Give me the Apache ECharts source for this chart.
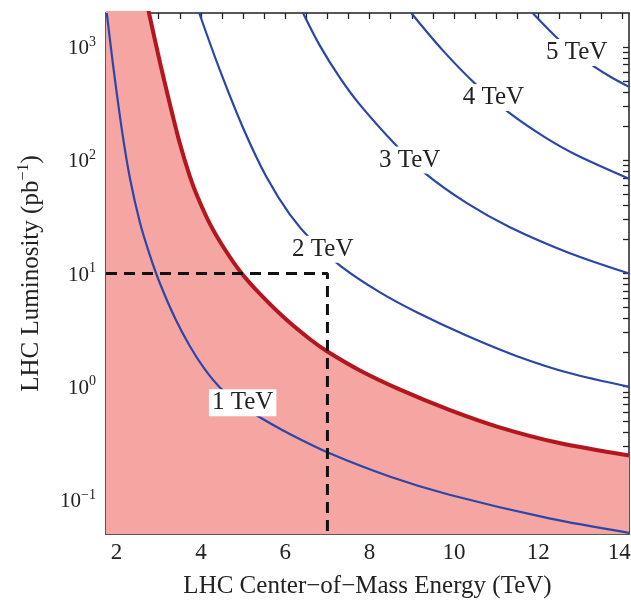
<!DOCTYPE html>
<html><head><meta charset="utf-8">
<script src="https://cdn.jsdelivr.net/npm/echarts@6/dist/echarts.min.js"></script>
<style>html,body{margin:0;padding:0;background:#fff}#c{width:631px;height:604px}</style>
</head><body><div id="c"></div>
<script>
// ---- axis ranges and tick labels ----
const xRange = [1.75, 14.15];
const yRange = [0.05, 2000];
const xTickLabels = [2, 4, 6, 8, 10, 12, 14];
const yTickLabels = [0.1, 1, 10, 100, 1000];

// ---- thick red curve (shaded region below it) ----
const redE = [1.75, 2.55, 2.77, 3.03, 3.27, 3.50, 3.74, 3.92, 4.21, 4.57, 4.96, 5.40, 5.99, 6.58, 6.98, 7.76, 8.71, 9.89, 11.08, 12.50, 14.15];
const redL = [30000, 5000, 2000, 731, 308, 141, 71.9, 47.6, 27.6, 16.3, 10.1, 6.60, 4.02, 2.64, 2.07, 1.40, 0.948, 0.625, 0.438, 0.318, 0.247];

// ---- blue contours ----
const tev1E = [1.768, 1.917, 2.130, 2.320, 2.556, 2.793, 3.030, 3.385, 3.740, 4.095, 4.450, 4.923, 5.396, 6.107, 7.053, 8.473, 9.893, 12.260, 14.154];
const tev1L = [2000, 695, 182, 68.7, 28.1, 14.4, 8.16, 4.05, 2.28, 1.42, 0.986, 0.698, 0.537, 0.382, 0.258, 0.161, 0.111, 0.0686, 0.0512];
const tev2E = [3.960, 4.450, 5.001, 5.555, 6.107, 6.658, 7.330, 8.237, 9.105, 10.296, 11.479, 12.734, 14.154];
const tev2L = [2000, 625, 193, 71.1, 33.3, 19.1, 11.5, 6.84, 4.57, 2.83, 1.87, 1.32, 0.998];
const tev3E = [6.421, 6.817, 7.290, 7.763, 8.632, 9.302, 10.296, 11.314, 12.734, 14.154];
const tev3L = [2000, 1035, 540, 312, 135, 77.3, 42.0, 25.8, 15.2, 10.0];
const tev4E = [8.987, 9.735, 10.525, 11.314, 12.142, 12.892, 14.154];
const tev4L = [2000, 935, 466, 262, 161, 112, 68.7];
const tev5E = [11.865, 12.497, 12.911, 13.325, 13.728, 14.154];
const tev5L = [2000, 1154, 869, 673, 542, 445];

// ---- curve labels ----
const labelText = ['1 TeV', '2 TeV', '3 TeV', '4 TeV', '5 TeV'];
const labelE = [4.99, 6.89, 8.95, 10.935, 12.91];
const labelL = [0.72, 16.4, 100.5, 359, 896];

// ---- dashed reference: 7 TeV, 10 pb^-1 ----
const refE = 7;
const refL = 10;

const FONT = '"Liberation Serif", "Times New Roman", "DejaVu Serif", serif';
const TXT = '#222';
const BLUE = '#2a47a8';
const RED = '#b3161f';
const PINK = '#f6a6a2';

function pairs(xs, ys) { return xs.map((x, i) => [x, ys[i]]); }

const xMinor = [];
for (let i = 0; i <= 24; i++) xMinor.push(2 + i * 0.5);
const yMinor = [];
for (let d = -2; d <= 3; d++) for (let k = 1; k <= 9; k++) {
  const v = +(k * Math.pow(10, d)).toPrecision(3);
  if (v > yRange[0] && v < yRange[1]) yMinor.push(v);
}

function supText(v) {
  const e = Math.round(Math.log10(v));
  return '{b|10}{s|' + (e < 0 ? '\u2212' + (-e) : String(e)) + '}';
}

function xAxisDef(pos, main) {
  return {
    type: 'value', position: pos, min: xRange[0], max: xRange[1],
    axisLine: { show: true, onZero: false, lineStyle: { color: TXT, width: 1.5 } },
    axisTick: { show: true, inside: true, length: 6, lineStyle: { color: TXT, width: 1.3 }, customValues: xMinor },
    axisLabel: { show: main, customValues: xTickLabels, margin: 7, fontFamily: FONT, fontSize: 23, color: TXT,
      formatter: v => {
        const s = String(Math.round(v));
        return v === xTickLabels[xTickLabels.length - 1] ? '{r|' + s + '}' : s;
      },
      rich: { r: { fontFamily: FONT, fontSize: 23, color: TXT, padding: [0, 7, 0, 0] } } },
    splitLine: { show: false },
    name: main ? 'LHC Center\u2212of\u2212Mass Energy (TeV)' : '',
    nameLocation: 'middle', nameGap: 40,
    nameTextStyle: { fontFamily: FONT, fontSize: 25, color: TXT }
  };
}
function yAxisDef(pos, main) {
  return {
    type: 'log', logBase: 10, position: pos, min: yRange[0], max: yRange[1],
    axisLine: { show: true, onZero: false, lineStyle: { color: TXT, width: 1.5 } },
    axisTick: { show: true, inside: true, length: 6, lineStyle: { color: TXT, width: 1.3 }, customValues: yMinor },
    axisLabel: { show: main, customValues: yTickLabels, margin: 10, color: TXT,
      formatter: supText,
      rich: {
        b: { fontFamily: FONT, fontSize: 21, color: TXT, lineHeight: 24, verticalAlign: 'bottom' },
        s: { fontFamily: FONT, fontSize: 14, color: TXT, lineHeight: 14, verticalAlign: 'top' }
      } },
    splitLine: { show: false },
    name: main ? 'LHC Luminosity (pb{s|\u22121})' : '',
    nameLocation: 'middle', nameGap: 60,
    nameTextStyle: { fontFamily: FONT, fontSize: 25, color: TXT, lineHeight: 30,
      rich: { s: { fontFamily: FONT, fontSize: 16, color: TXT, lineHeight: 16, verticalAlign: 'top' } } }
  };
}

function blue(name, xs, ys) {
  return { name, type: 'line', data: pairs(xs, ys), xAxisIndex: 0, yAxisIndex: 0,
    showSymbol: false, smooth: 0.3, clip: true, z: 3,
    lineStyle: { color: BLUE, width: 2.2 } };
}

const chart = echarts.init(document.getElementById('c'));
chart.setOption({
  animation: false,
  backgroundColor: '#fff',
  grid: { left: 106, right: 2, top: 13, bottom: 70, outerBoundsMode: 'none' },
  xAxis: [xAxisDef('bottom', true), xAxisDef('top', false)],
  yAxis: [yAxisDef('left', true), yAxisDef('right', false)],
  series: [
    { name: 'threshold', type: 'line', data: pairs(redE, redL), showSymbol: false, smooth: 0.3, clip: true, z: 2,
      lineStyle: { color: RED, width: 4 },
      areaStyle: { color: PINK, opacity: 1, origin: 'start' } },
    blue('1 TeV', tev1E, tev1L),
    blue('2 TeV', tev2E, tev2L),
    blue('3 TeV', tev3E, tev3L),
    blue('4 TeV', tev4E, tev4L),
    blue('5 TeV', tev5E, tev5L),
    { name: 'ref', type: 'line', data: [[xRange[0], refL], [refE, refL], [refE, yRange[0]]],
      showSymbol: false, clip: true, z: 5,
      lineStyle: { color: '#111', width: 3, type: [11, 7] } },
    { name: 'labels', type: 'scatter', symbolSize: 0, z: 6,
      itemStyle: { opacity: 1 },
      data: labelText.map((t, i) => ({ name: t, value: [labelE[i], labelL[i]] })),
      label: { show: true, position: 'inside', formatter: '{b}', fontFamily: FONT, fontSize: 25, color: TXT,
        backgroundColor: '#fff', padding: [2, 3, 0, 3] } }
  ]
});
</script>
</body></html>
